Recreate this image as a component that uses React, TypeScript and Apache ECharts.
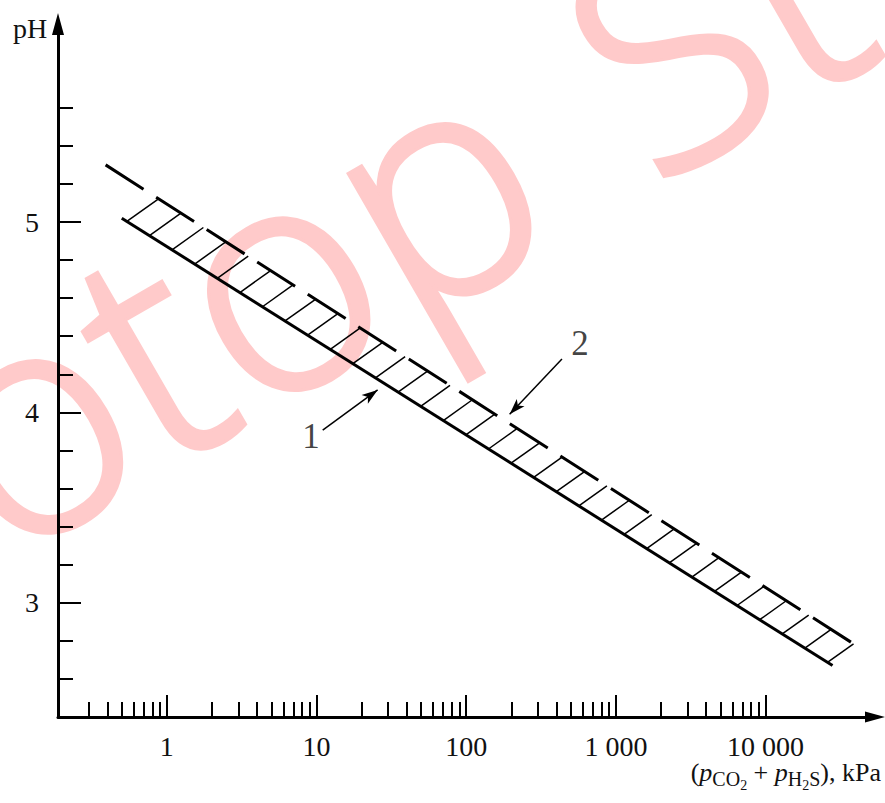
import React, { useEffect, useRef } from "react";
import * as echarts from "echarts";

// ---- data (x in kPa, y in pH) ----
const X_RANGE = [0.1875, 53800];
const Y_RANGE = [2.4, 6.04];
const X_LABEL_VALUES = [1, 10, 100, 1000, 10000];
const X_LABELS = ["1", "10", "100", "1 000", "10 000"];
const X_MINOR_TICKS = [
  0.3, 0.4, 0.5, 0.6, 0.7, 0.8, 0.9,
  2, 3, 4, 5, 6, 7, 8, 9,
  20, 30, 40, 50, 60, 70, 80, 90,
  200, 300, 400, 500, 600, 700, 800, 900,
  2000, 3000, 4000, 5000, 6000, 7000, 8000, 9000,
];
const Y_MAJOR_TICKS = [3, 4, 5];
const Y_MINOR_TICKS = [2.6, 2.8, 3.2, 3.4, 3.6, 3.8, 4.2, 4.4, 4.6, 4.8, 5.2, 5.4, 5.6];
const LINE_1 = [[0.5, 5.02], [28000, 2.67]]; // solid
const LINE_2 = [[0.39, 5.3], [37700, 2.79]]; // dashed
const ARROW_1 = [[11, 3.907], [25.6, 4.118]];
const ARROW_2 = [[436, 4.28], [195, 3.99]];
const CALLOUTS = [
  { name: "1", value: [9.2, 3.875] },
  { name: "2", value: [575, 4.36] },
];

const lg = (v: number) => Math.log10(v);
const SERIF = "Liberation Serif";

export default function App() {
  const ref = useRef<HTMLDivElement>(null);
  useEffect(() => {
    if (!ref.current) return;
    const chart = echarts.init(ref.current, null, { renderer: "svg" });
    const xMin = lg(X_RANGE[0]);
    const xMax = lg(X_RANGE[1]);
    const axisBase = {
      type: "value",
      min: xMin,
      max: xMax,
      position: "bottom",
      splitLine: { show: false },
    };
    const HATCH_COUNT = 32;
    const HATCH_INSET = 6;
    const HATCH_ANGLE = 35.5;

    const wmStyle = {
      fontSize: 310,
      fontFamily: "'Open Sans', Lato, 'Liberation Sans'",
      fontWeight: 300,
      fill: "#ffcaca",
      stroke: "#ffcaca",
      lineWidth: 6,
      align: "left",
      verticalAlign: "middle",
    };

    const option: any = {
      animation: false,
      backgroundColor: "#fff",
      grid: { left: 58, right: 10, top: 24, bottom: 86, containLabel: false },
      xAxis: [
        {
          ...axisBase,
          axisLine: {
            show: true,
            onZero: false,
            lineStyle: { color: "#000", width: 3 },
            symbol: ["none", "triangle"],
            symbolSize: [11, 20],
          },
          axisTick: {
            show: true,
            inside: true,
            length: 15,
            lineStyle: { color: "#000", width: 2 },
            customValues: X_MINOR_TICKS.map(lg),
          },
          axisLabel: {
            show: true,
            margin: 18,
            fontSize: 28,
            lineHeight: 22,
            fontFamily: SERIF,
            color: "#111",
            customValues: X_LABEL_VALUES.map(lg),
            formatter: (v: number) => {
              const i = X_LABEL_VALUES.findIndex((p) => Math.abs(lg(p) - v) < 1e-6);
              return i >= 0 ? X_LABELS[i] : "";
            },
          },
        },
        {
          ...axisBase,
          axisLine: { show: false, onZero: false },
          axisTick: {
            show: true,
            inside: true,
            length: 22,
            lineStyle: { color: "#000", width: 2 },
            customValues: X_LABEL_VALUES.map(lg),
          },
          axisLabel: { show: false },
        },
      ],
      yAxis: [
        {
          type: "value",
          min: Y_RANGE[0],
          max: Y_RANGE[1],
          position: "left",
          splitLine: { show: false },
          axisLine: {
            show: true,
            onZero: false,
            lineStyle: { color: "#000", width: 3 },
            symbol: ["none", "triangle"],
            symbolSize: [12, 22],
          },
          axisTick: {
            show: true,
            inside: true,
            length: 15,
            lineStyle: { color: "#000", width: 2 },
            customValues: Y_MINOR_TICKS,
          },
          axisLabel: {
            show: true,
            margin: 19,
            fontSize: 28,
            fontFamily: SERIF,
            color: "#111",
            customValues: Y_MAJOR_TICKS,
            formatter: (v: number) => String(v),
          },
        },
        {
          type: "value",
          min: Y_RANGE[0],
          max: Y_RANGE[1],
          position: "left",
          splitLine: { show: false },
          axisLine: { show: false, onZero: false },
          axisTick: {
            show: true,
            inside: true,
            length: 23,
            lineStyle: { color: "#000", width: 2 },
            customValues: Y_MAJOR_TICKS,
          },
          axisLabel: { show: false },
        },
      ],
      graphic: [
        {
          type: "group",
          x: -56,
          y: 460,
          rotation: Math.PI / 6,
          z: -1,
          silent: true,
          children: [
            { type: "text", x: 0, y: 0, style: { ...wmStyle, text: "otop" } },
            { type: "text", x: 750, y: 0, style: { ...wmStyle, text: "St" } },
          ],
        },
        {
          type: "text",
          x: 13,
          y: 28,
          style: {
            text: "pH",
            fontSize: 28,
            fontFamily: SERIF,
            fill: "#111",
            align: "left",
            verticalAlign: "middle",
          },
        },
        {
          type: "text",
          x: 881,
          y: 759,
          style: {
            text: "{m|(}{i|p}{s|CO}{ss|2}{m| + }{i|p}{s|H}{ss|2}{s|S}{m|), kPa}",
            align: "right",
            verticalAlign: "top",
            fill: "#111",
            rich: {
              m: { fontSize: 26, fontFamily: SERIF, lineHeight: 22, verticalAlign: "top", fill: "#111" },
              i: { fontSize: 26, fontFamily: SERIF, fontStyle: "italic", lineHeight: 22, verticalAlign: "top", fill: "#111" },
              s: { fontSize: 20, fontFamily: SERIF, lineHeight: 20, padding: [10, 0, 0, 0], verticalAlign: "top", fill: "#111" },
              ss: { fontSize: 14, fontFamily: SERIF, lineHeight: 14, padding: [19, 0, 0, 0], verticalAlign: "top", fill: "#111" },
            },
          },
        },
      ],
      series: [
        {
          type: "custom",
          name: "hatch",
          silent: true,
          clip: false,
          encode: { x: [0, 2, 4, 6], y: [1, 3, 5, 7] },
          data: [[
            lg(LINE_1[0][0]), LINE_1[0][1], lg(LINE_1[1][0]), LINE_1[1][1],
            lg(LINE_2[0][0]), LINE_2[0][1], lg(LINE_2[1][0]), LINE_2[1][1],
          ]],
          renderItem: (params: any, api: any) => {
            const s0 = api.coord([api.value(0), api.value(1)]);
            const s1 = api.coord([api.value(2), api.value(3)]);
            const d0 = api.coord([api.value(4), api.value(5)]);
            const d1 = api.coord([api.value(6), api.value(7)]);
            const ang = (HATCH_ANGLE * Math.PI) / 180;
            const hx = Math.cos(ang);
            const hy = -Math.sin(ang);
            const sx = s1[0] - s0[0];
            const sy = s1[1] - s0[1];
            const len = Math.hypot(sx, sy);
            const ux = sx / len;
            const uy = sy / len;
            const ex = d1[0] - d0[0];
            const ey = d1[1] - d0[1];
            const det = hx * -ey - -ex * hy;
            const children: any[] = [];
            for (let i = 0; i < HATCH_COUNT; i++) {
              const t = HATCH_INSET + ((len - 2 * HATCH_INSET) * i) / (HATCH_COUNT - 1);
              const px = s0[0] + ux * t;
              const py = s0[1] + uy * t;
              const rx = d0[0] - px;
              const ry = d0[1] - py;
              const a = (rx * -ey - -ex * ry) / det;
              children.push({
                type: "line",
                shape: { x1: px, y1: py, x2: px + a * hx, y2: py + a * hy },
                style: { stroke: "#000", lineWidth: 1.5 },
              });
            }
            return { type: "group", children };
          },
        },
        {
          type: "line",
          name: "1",
          data: LINE_1.map(([x, y]) => [lg(x), y]),
          showSymbol: false,
          symbol: "none",
          lineStyle: { color: "#000", width: 3, cap: "butt" },
          silent: true,
          z: 3,
        },
        {
          type: "line",
          name: "2",
          data: LINE_2.map(([x, y]) => [lg(x), y]),
          showSymbol: false,
          symbol: "none",
          lineStyle: { color: "#000", width: 3, type: [45, 15], cap: "butt" },
          silent: true,
          z: 3,
        },
        {
          type: "lines",
          coordinateSystem: "cartesian2d",
          silent: true,
          symbol: ["none", "arrow"],
          symbolSize: [0, [8, 16]],
          lineStyle: { color: "#000", width: 1.5, opacity: 1, curveness: 0 },
          data: [ARROW_1, ARROW_2].map((a) => ({ coords: a.map(([x, y]) => [lg(x), y]) })),
          z: 4,
        },
        {
          type: "scatter",
          silent: true,
          symbol: "circle",
          symbolSize: 1,
          itemStyle: { color: "rgba(0,0,0,0)" },
          data: CALLOUTS.map((c) => ({ name: c.name, value: [lg(c.value[0]), c.value[1]] })),
          label: {
            show: true,
            position: "inside",
            formatter: "{b}",
            fontSize: 35,
            fontFamily: SERIF,
            color: "#111",
          },
          z: 5,
        },
      ],
    };
    chart.setOption(option);
    return () => chart.dispose();
  }, []);
  return (
    <div
      ref={ref}
      style={{ position: "fixed", left: 0, top: 0, width: 885, height: 803, background: "#fff" }}
    />
  );
}
